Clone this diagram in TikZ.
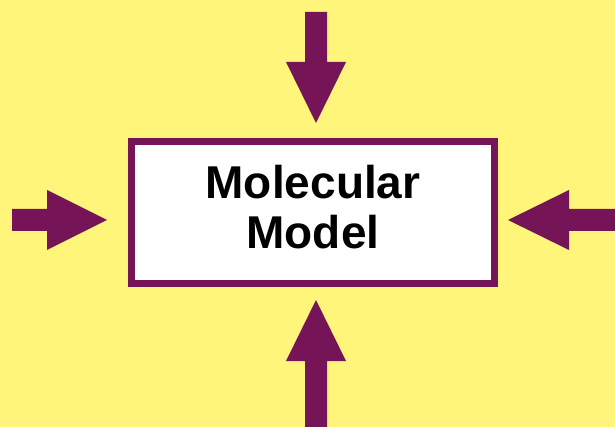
\documentclass[tikz,border=0pt]{standalone}
\usepackage{fontspec}
\setmainfont{Liberation Sans}
\definecolor{bgyellow}{HTML}{FFF57A}
\definecolor{plum}{HTML}{761458}
\tikzset{
  fatarrow/.style={fill=plum, draw=none},
  modelbox/.style={draw=plum, line width=7pt, fill=white, minimum width=363pt, minimum height=142pt, inner sep=0pt},
  label/.style={font=\fontsize{46}{50}\selectfont\bfseries, align=center, text=black}
}
\begin{document}
\begin{tikzpicture}[x=1pt, y=-1pt]
  % canvas
  \fill[bgyellow] (0,0) rectangle (615,427);
  \useasboundingbox (0,0) rectangle (615,427);
  % central box
  \node[modelbox] (box) at (313,212.5) {};
  \node[label, anchor=base] (line1) at (313,199) {Molecular};
  \node[label, anchor=base] (line2) at (313,249) {Model};
  % arrow from the top
  \fill[fatarrow] (305,12) -- (327,12) -- (327,62) -- (346,62) -- (316,123)
     -- (286,62) -- (305,62) -- cycle;
  % arrow from the bottom
  \fill[fatarrow] (305,427) -- (327,427) -- (327,361) -- (346,361) -- (316,300)
     -- (286,361) -- (305,361) -- cycle;
  % arrow from the left
  \fill[fatarrow] (12,209) -- (47,209) -- (47,190) -- (107,220) -- (47,250)
     -- (47,231) -- (12,231) -- cycle;
  % arrow from the right
  \fill[fatarrow] (615,209) -- (569,209) -- (569,190) -- (508,220) -- (569,250)
     -- (569,231) -- (615,231) -- cycle;
\end{tikzpicture}
\end{document}
